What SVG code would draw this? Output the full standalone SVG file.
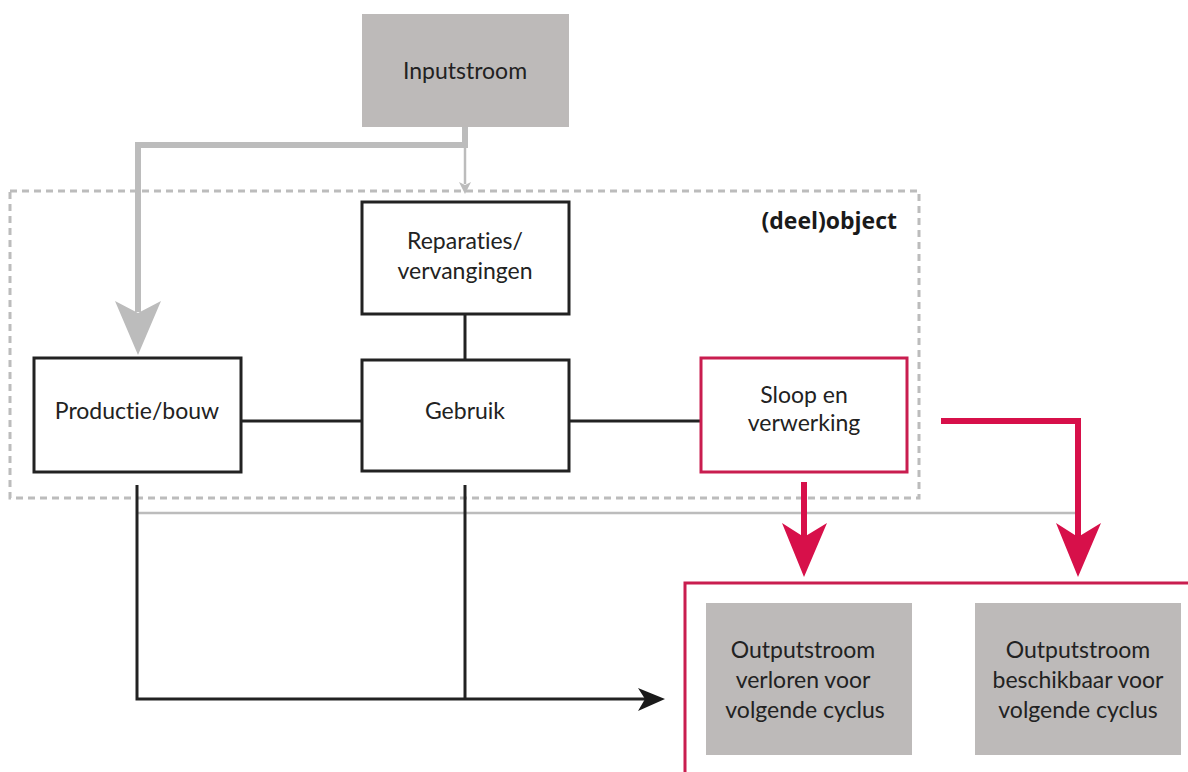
<svg xmlns="http://www.w3.org/2000/svg" width="1188" height="772" viewBox="0 0 1188 772">
<style>
  .lbl { font-family: Lato, "Open Sans", "DejaVu Sans", sans-serif; font-size: 23px; fill: #222; text-anchor: middle; font-variant-ligatures: none; }
  .bold { font-family: "Open Sans", Lato, "DejaVu Sans", sans-serif; font-size: 23px; font-weight: bold; fill: #1a1a1a; text-anchor: end; }
  .box { fill: #ffffff; stroke: #222; stroke-width: 3; }
  .redbox { fill: #ffffff; stroke: #c91d4f; stroke-width: 3; }
  .grey { fill: #bdbab9; stroke: none; }
  .blk { stroke: #222; stroke-width: 3; fill: none; }
  .gthick { stroke: #bcbcbc; stroke-width: 6; fill: none; }
  .gthin { stroke: #bcbcbc; stroke-width: 2.5; fill: none; }
  .red { stroke: #d7104a; stroke-width: 6; fill: none; }
</style>
<rect width="1188" height="772" fill="#ffffff"/>

<g id="container">
  <rect x="10" y="191" width="909" height="307" fill="none" stroke="#bcbcbc" stroke-width="3" stroke-dasharray="7 5"/>
  <text class="bold" x="897" y="229">(deel)object</text>
</g>

<g id="output-container">
  <rect x="685" y="583" width="600" height="300" class="redbox"/>
</g>

<g id="connectors">
  <path class="gthick" d="M465,127 V145 H138 V312"/>
  <polygon points="115,301 138,313 161,301 138,355" fill="#bcbcbc"/>
  <path class="gthin" d="M465,145 V184"/>
  <polygon points="459,182 465,185 471,182 465,194" fill="#bcbcbc"/>
  <path class="blk" d="M465,314 V360"/>
  <path class="blk" d="M241,421 H362"/>
  <path class="blk" d="M569,421 H700"/>
  <path class="gthin" d="M137,513 H1078"/>
  <path class="blk" d="M137,485 V699 H645"/>
  <path class="blk" d="M465,485 V699"/>
  <polygon points="638,688 665,699 638,711 645,699" fill="#1a1a1a"/>
  <path class="red" d="M804,482 V540"/>
  <polygon points="782,523 804,537 827,523 804,577" fill="#d7104a"/>
  <path class="red" d="M941,421 H1078 V540"/>
  <polygon points="1056,523 1078,537 1101,523 1078,577" fill="#d7104a"/>
</g>

<g id="inputstroom">
  <rect x="362" y="14" width="207" height="113" class="grey"/>
  <text class="lbl" x="465" y="79">Inputstroom</text>
</g>

<g id="reparaties">
  <rect x="362" y="202" width="207" height="112" class="box"/>
  <text class="lbl" x="465" y="249">Reparaties/</text>
  <text class="lbl" x="465" y="279">vervangingen</text>
</g>

<g id="productie">
  <rect x="34" y="358" width="207" height="114" class="box"/>
  <text class="lbl" x="137" y="419">Productie/bouw</text>
</g>

<g id="gebruik">
  <rect x="362" y="360" width="207" height="111" class="box"/>
  <text class="lbl" x="465" y="419">Gebruik</text>
</g>

<g id="sloop">
  <rect x="701" y="358" width="206" height="114" class="redbox"/>
  <text class="lbl" x="804" y="403">Sloop en</text>
  <text class="lbl" x="804" y="431">verwerking</text>
</g>

<g id="output-verloren">
  <rect x="706" y="603" width="206" height="152" class="grey"/>
  <text class="lbl" x="803" y="658">Outputstroom</text>
  <text class="lbl" x="803" y="688">verloren voor</text>
  <text class="lbl" x="805" y="718">volgende cyclus</text>
</g>

<g id="output-beschikbaar">
  <rect x="975" y="603" width="206" height="152" class="grey"/>
  <text class="lbl" x="1078" y="658">Outputstroom</text>
  <text class="lbl" x="1078" y="688">beschikbaar voor</text>
  <text class="lbl" x="1078" y="718">volgende cyclus</text>
</g>
</svg>
